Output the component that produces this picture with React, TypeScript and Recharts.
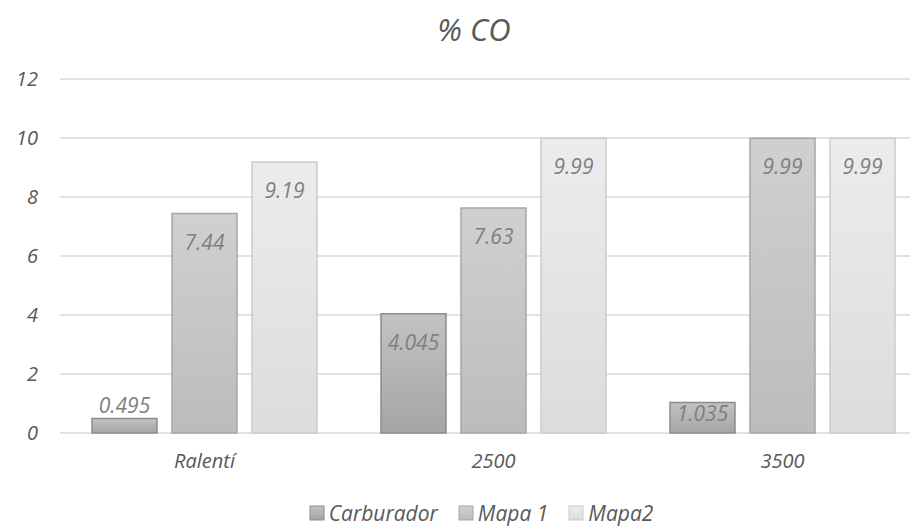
import React from "react";
import { BarChart, Bar, XAxis, YAxis, CartesianGrid, LabelList } from "recharts";

const categories = ["Ralentí", "2500", "3500"];
const carburador = [0.495, 4.045, 1.035];
const mapa1 = [7.44, 7.63, 9.99];
const mapa2 = [9.19, 9.99, 9.99];
const yTicks = [0, 2, 4, 6, 8, 10, 12];
const seriesNames = ["Carburador", "Mapa 1", "Mapa2"];

const data = categories.map((c, i) => ({
  name: c,
  carburador: carburador[i],
  mapa1: mapa1[i],
  mapa2: mapa2[i],
}));

const FONT = "'Open Sans', Lato, sans-serif";

const renderLabel = (props: any) => {
  const { x, y, width, height, value } = props;
  let ly: number;
  if (height < 20) ly = y - 13;
  else ly = Math.min(y + 28, y + height - 20);
  return (
    <text
      x={x + width / 2}
      y={ly}
      textAnchor="middle"
      dominantBaseline="central"
      fill="#7f7f7f"
      fontSize={21}
      fontStyle="italic"
      fontFamily={FONT}
    >
      {value}
    </text>
  );
};

const gradIds = ["gCarb", "gMapa1", "gMapa2"];
const gradTop = ["#c2c2c2", "#d0d0d0", "#ececec"];
const gradBottom = ["#a5a5a5", "#bcbcbc", "#dcdcdc"];
const strokes = ["#8c8c8c", "#a6a6a6", "#cccccc"];

export default function App() {
  return (
    <div style={{ position: "relative", width: 910, height: 522, overflow: "hidden", fontFamily: FONT }}>
      <div
        style={{
          position: "absolute",
          top: 0,
          left: 0,
          width: 932,
          textAlign: "center",
          fontSize: 31,
          fontStyle: "italic",
          color: "#595959",
        }}
      >
        % CO
      </div>
      <BarChart
        width={930}
        height={522}
        data={data}
        margin={{ top: 71, right: 11, left: 12, bottom: 57 }}
        barCategoryGap="11%"
        barGap={15}
      >
        <defs>
          {gradIds.map((id, i) => (
            <linearGradient key={id} id={id} x1="0" y1="0" x2="0" y2="1">
              <stop offset="0%" stopColor={gradTop[i]} />
              <stop offset="100%" stopColor={gradBottom[i]} />
            </linearGradient>
          ))}
        </defs>
        <CartesianGrid vertical={false} stroke="#d9d9d9" strokeWidth={1.5} />
        <XAxis
          dataKey="name"
          axisLine={false}
          tickLine={false}
          tickSize={0}
          tickMargin={21}
          height={40}
          tick={{ fill: "#595959", fontSize: 20, fontStyle: "italic", fontFamily: FONT }}
        />
        <YAxis
          domain={[0, 12]}
          ticks={yTicks}
          axisLine={false}
          tickLine={false}
          tickSize={0}
          tickMargin={22}
          width={40}
          tick={{ fill: "#595959", fontSize: 20, fontStyle: "italic", fontFamily: FONT }}
        />
        <Bar dataKey="carburador" name={seriesNames[0]} fill="url(#gCarb)" stroke={strokes[0]} strokeWidth={1.5} barSize={65} isAnimationActive={false}>
          <LabelList dataKey="carburador" content={renderLabel} />
        </Bar>
        <Bar dataKey="mapa1" name={seriesNames[1]} fill="url(#gMapa1)" stroke={strokes[1]} strokeWidth={1.5} barSize={65} isAnimationActive={false}>
          <LabelList dataKey="mapa1" content={renderLabel} />
        </Bar>
        <Bar dataKey="mapa2" name={seriesNames[2]} fill="url(#gMapa2)" stroke={strokes[2]} strokeWidth={1.5} barSize={65} isAnimationActive={false}>
          <LabelList dataKey="mapa2" content={renderLabel} />
        </Bar>
      </BarChart>
      <div
        style={{
          position: "absolute",
          top: 491,
          left: 0,
          width: 946,
          display: "flex",
          justifyContent: "center",
          alignItems: "center",
          fontSize: 21,
          fontStyle: "italic",
          color: "#595959",
        }}
      >
        {seriesNames.map((n, i) => (
          <span key={n} style={{ display: "flex", alignItems: "center", marginRight: i < 2 ? 20 : 0 }}>
            <svg width={16} height={16} style={{ marginRight: 4 }}>
              <defs>
                <linearGradient id={"lg" + i} x1="0" y1="0" x2="0" y2="1">
                  <stop offset="0%" stopColor={gradTop[i]} />
                  <stop offset="100%" stopColor={gradBottom[i]} />
                </linearGradient>
              </defs>
              <rect x={1} y={1} width={14} height={14} fill={`url(#lg${i})`} stroke={strokes[i]} />
            </svg>
            {n}
          </span>
        ))}
      </div>
    </div>
  );
}
